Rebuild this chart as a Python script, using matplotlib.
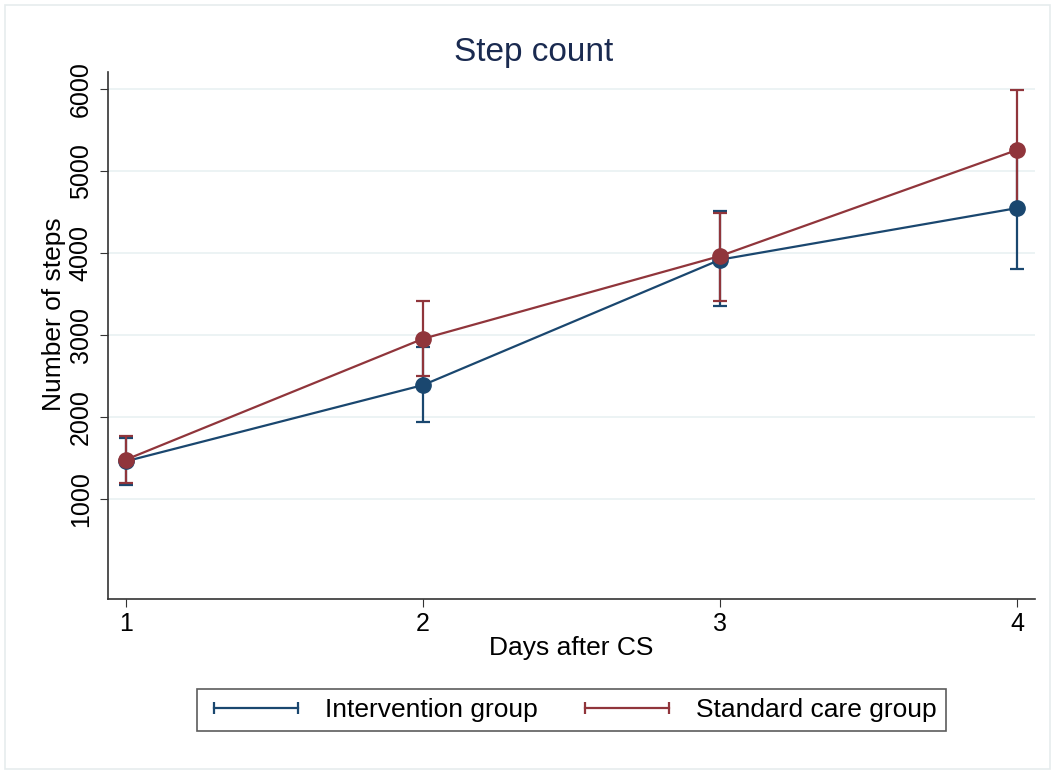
import matplotlib.pyplot as plt
from matplotlib.patches import Rectangle
from matplotlib.lines import Line2D

plt.rcParams['font.family'] = ['Liberation Sans', 'DejaVu Sans']

days = [1, 2, 3, 4]
interv_mean = [1460, 2390, 3920, 4550]
interv_low = [1170, 1935, 3360, 3810]
interv_high = [1745, 2860, 4515, 5290]
std_mean = [1480, 2955, 3965, 5260]
std_low = [1195, 2495, 3420, 4560]
std_high = [1765, 3410, 4495, 5990]

blue = '#1a476f'
red = '#90353b'

fig = plt.figure(figsize=(10.52, 7.70), dpi=100)
ax = fig.add_axes([0.1027, 0.2221, 0.8813, 0.6844])

groups = [
    [interv_mean, interv_low, interv_high, blue, 'Intervention group'],
    [std_mean, std_low, std_high, red, 'Standard care group'],
]

# error bars first, then the connected lines on top
for mean, low, high, color, label in groups:
    err = [[m - l for m, l in zip(mean, low)], [h - m for m, h in zip(mean, high)]]
    ax.errorbar(days, mean, yerr=err, fmt='none', ecolor=color, elinewidth=1.6,
                capsize=5, capthick=1.6)
for mean, low, high, color, label in groups:
    ax.plot(days, mean, '-o', color=color, lw=1.6, markersize=11)

ax.set_xlim(0.94, 4.06)
ax.set_ylim(-220, 6210)
ax.set_xticks(days)
ax.set_yticks([1000, 2000, 3000, 4000, 5000, 6000])
ax.set_yticklabels(['1000', '2000', '3000', '4000', '5000', '6000'], rotation=90, va='center')
ax.tick_params(labelsize=18, length=6, color='#333333')
ax.tick_params(axis='y', pad=5)
ax.yaxis.grid(True, color='#eaf2f3', lw=1.3)
ax.set_axisbelow(True)
for s in ['top', 'right']:
    ax.spines[s].set_visible(False)
for s in ['left', 'bottom']:
    ax.spines[s].set_color('#333333')
    ax.spines[s].set_linewidth(1.2)

ax.set_xlabel('Days after CS', fontsize=19, labelpad=0)
ax.set_ylabel('Number of steps', fontsize=19)
ax.yaxis.set_label_coords(-0.045, 0.54)
fig.suptitle('Step count', x=534 / 1052, y=0.952, fontsize=24, color='#1a2a50')

handles = [Line2D([], [], color=c, lw=1.6, marker='|', markersize=9, markeredgewidth=1.6)
           for c in [blue, red]]
leg = fig.legend(handles, ['Intervention group', 'Standard care group'], loc='center',
                 bbox_to_anchor=(0.543, 0.078), ncol=2, fontsize=19, numpoints=2,
                 handlelength=3.8, frameon=True, fancybox=False, edgecolor='#333333',
                 columnspacing=1.5, handletextpad=0.7, borderpad=0.35)
leg.get_frame().set_linewidth(1.2)

fig.patches.append(Rectangle((5 / 1052, 1 / 770), 1045 / 1052, 764 / 770,
                             transform=fig.transFigure, fill=False,
                             edgecolor='#e6eced', lw=1.2))

fig.savefig('out.png', dpi=100)
